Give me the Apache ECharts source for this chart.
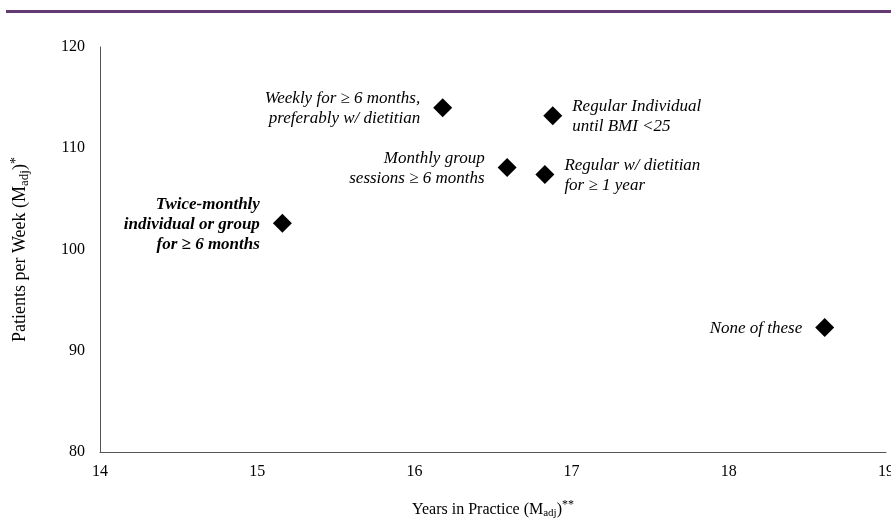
<!DOCTYPE html>
<html>
<head>
<meta charset="utf-8">
<script src="https://cdn.jsdelivr.net/npm/echarts@6/dist/echarts.min.js"></script>
<style>
html,body{margin:0;padding:0;background:#fff;}
#top{position:absolute;left:6px;top:10px;width:885px;height:3px;background:#633a72;}
#chart{width:891px;height:521px;}
</style>
</head>
<body>
<div id="chart"></div>
<div id="top"></div>
<script>
const labels = [
  'Weekly for \u2265 6 months,\npreferably w/ dietitian',
  'Regular Individual\nuntil BMI <25',
  'Monthly group\nsessions \u2265 6 months',
  'Regular w/ dietitian\nfor \u2265 1 year',
  'Twice-monthly\nindividual or group\nfor \u2265 6 months',
  'None of these'
];
const yearsInPractice = [16.18, 16.88, 16.59, 16.83, 15.16, 18.61];
const patientsPerWeek = [114.0, 113.2, 108.1, 107.4, 102.6, 92.3];
const labelSide = ['left', 'right', 'left', 'right', 'left', 'left'];
const labelBold = [false, false, false, false, true, false];
const xTicks = [14, 15, 16, 17, 18, 19];
const yTicks = [80, 90, 100, 110, 120];

const serif = "'Liberation Serif', 'Times New Roman', serif";
const chart = echarts.init(document.getElementById('chart'), null, {renderer: 'canvas'});

const data = yearsInPractice.map((x, i) => ({
  value: [x, patientsPerWeek[i]],
  label: {
    show: true,
    formatter: labels[i],
    position: labelSide[i],
    distance: labelSide[i] === 'left' ? 13 : 10,
    fontStyle: 'italic',
    fontWeight: labelBold[i] ? 'bold' : 'normal',
    fontFamily: serif,
    fontSize: 17,
    lineHeight: 20,
    color: '#000',
    opacity: 1,
    offset: [0, 1]
  }
}));

const richName = (size) => ({
  sub: {fontSize: size - 5, fontFamily: serif, color: '#000', padding: [8, 0, 0, 0]},
  sup: {fontSize: size - 4, fontFamily: serif, color: '#000', padding: [0, 0, 9, 0]}
});

chart.setOption({
  animation: false,
  grid: {left: 100, right: 5, top: 47, bottom: 69, containLabel: false, outerBoundsMode: 'none'},
  xAxis: {
    type: 'value',
    min: xTicks[0], max: xTicks[xTicks.length - 1], interval: 1,
    axisLine: {show: true, lineStyle: {color: '#555', width: 1}},
    axisTick: {show: false},
    splitLine: {show: false},
    axisLabel: {color: '#000', fontFamily: serif, fontSize: 16, margin: 12},
    name: 'Years in Practice (M{sub|adj}){sup|**}',
    nameLocation: 'middle',
    nameGap: 47,
    nameTextStyle: {color: '#000', fontFamily: serif, fontSize: 16, rich: richName(16)}
  },
  yAxis: {
    type: 'value',
    min: yTicks[0], max: yTicks[yTicks.length - 1], interval: 10,
    axisLine: {show: true, lineStyle: {color: '#555', width: 1}},
    axisTick: {show: false},
    splitLine: {show: false},
    axisLabel: {color: '#000', fontFamily: serif, fontSize: 16, margin: 15},
    name: 'Patients per Week (M{sub|adj}){sup|*}',
    nameLocation: 'middle',
    nameGap: 68,
    nameTextStyle: {color: '#000', fontFamily: serif, fontSize: 18, rich: richName(18)}
  },
  series: [{
    type: 'scatter',
    symbol: 'diamond',
    symbolSize: 19,
    itemStyle: {color: '#000', opacity: 1},
    emphasis: {disabled: true},
    data: data
  }]
});
</script>
</body>
</html>
